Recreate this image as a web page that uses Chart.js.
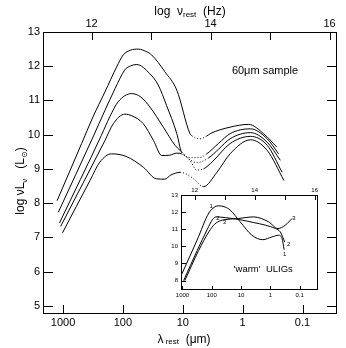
<!DOCTYPE html>
<html><head><meta charset="utf-8">
<script src="https://cdn.jsdelivr.net/npm/chart.js@4/dist/chart.umd.min.js"></script>
<style>
html,body{margin:0;padding:0;background:#fff;}
#wrap{position:relative;width:346px;height:348px;overflow:hidden;}
#main{position:absolute;left:0;top:0;}
#inset{position:absolute;left:160px;top:182px;}
</style></head><body>
<div id="wrap">
<canvas id="main" width="346" height="348"></canvas>
<canvas id="inset" width="165" height="120"></canvas>
</div>
<script>
// ---------- data: main panel (x = log10 lambda_rest [um], y = log nuL_nu [Lsun]) ----------
const mainTickValues = [3, 2, 1, 0, -1];
const mainTickLabels = ["1000", "100", "10", "1", "0.1"];
const nuTickValues = [12, 13, 14, 15, 16];
const nuTickLabels = ["12", "", "14", "", "16"];
const lumTickValues = [5, 6, 7, 8, 9, 10, 11, 12, 13];
const insetLumTickValues = [8, 9, 10, 11, 12, 13];

const sed1X = [3.10, 2.69, 2.50, 2.30, 2.105, 1.995, 1.87, 1.744, 1.60, 1.52, 1.30, 1.10, 0.88, 0.85, 0.71, 0.60, 0.54, 0.21, -0.10, -0.35, -0.57];
const sed1Y = [8.07, 9.74, 10.52, 11.25, 11.98, 12.33, 12.47, 12.50, 12.42, 12.33, 11.84, 11.30, 10.03, 9.97, 9.88, 9.96, 10.03, 10.22, 10.30, 10.03, 9.64];
const sed2X = [3.08, 2.50, 2.30, 2.13, 1.97, 1.87, 1.77, 1.55, 1.41, 1.27, 1.10, 1.02, 0.85, 0.72, 0.60, 0.40, 0.21, -0.13, -0.41, -0.60];
const sed2Y = [7.73, 9.93, 10.71, 11.35, 11.89, 12.01, 12.05, 11.78, 11.45, 10.85, 10.03, 9.49, 9.33, 9.33, 9.44, 9.75, 10.03, 10.17, 9.88, 9.44];
const sed3X = [3.06, 2.36, 2.22, 2.08, 1.855, 1.70, 1.55, 1.325, 1.13, 1.045, 0.90, 0.77, 0.57, 0.40, 0.21, -0.13, -0.41, -0.63];
const sed3Y = [7.42, 9.98, 10.52, 10.96, 11.20, 11.10, 10.81, 10.22, 9.69, 9.54, 9.30, 9.18, 9.32, 9.58, 9.88, 10.06, 9.78, 9.25];
const sed4X = [3.04, 2.30, 2.16, 1.97, 1.85, 1.66, 1.49, 1.35, 1.22, 1.10, 1.02, 0.88, 0.77, 0.655, 0.50, 0.21, -0.13, -0.41, -0.66];
const sed4Y = [7.32, 9.83, 10.32, 10.60, 10.55, 10.32, 9.83, 9.39, 9.40, 9.46, 9.44, 9.25, 8.97, 9.00, 9.22, 9.74, 9.95, 9.69, 8.90];
const sed5X = [3.01, 2.55, 2.385, 2.19, 1.94, 1.66, 1.44, 1.30, 1.20, 1.045, 0.93, 0.82, 0.655, 0.43, 0.21, -0.13, -0.41, -0.69];
const sed5Y = [7.13, 8.66, 9.20, 9.44, 9.36, 9.05, 8.71, 8.70, 8.82, 8.90, 8.84, 8.71, 8.48, 8.90, 9.44, 9.85, 9.54, 8.66];
// interpolated (dotted) parts of each SED: [short, long] log lambda range
const sed1Dotted = [0.60, 0.85];
const sed2Dotted = [0.60, 1.02];
const sed3Dotted = [0.57, 1.045];
const sed4Dotted = [0.655, 1.02];
const sed5Dotted = [0.655, 1.045];

// ---------- data: inset ('warm' ULIGs) ----------
const warm1X = [3.02, 2.50, 2.10, 1.90, 1.765, 1.55, 1.37, 1.03, 0.63, 0.26, -0.055, -0.28, -0.40, -0.47];
const warm1Y = [8.39, 10.37, 11.95, 12.30, 12.37, 12.30, 12.12, 11.43, 10.65, 10.39, 10.55, 10.65, 10.45, 9.80];
const warm2X = [2.96, 2.50, 2.15, 1.98, 1.85, 1.54, 1.08, 0.57, 0.17, -0.17, -0.34, -0.49];
const warm2Y = [8.00, 9.75, 11.00, 11.55, 11.72, 11.68, 11.57, 11.39, 11.24, 11.04, 10.84, 10.25];
const warm3X = [2.92, 2.45, 2.10, 1.90, 1.70, 1.59, 1.08, 0.57, 0.06, -0.26, -0.51, -0.74];
const warm3Y = [8.00, 9.75, 10.85, 11.30, 11.50, 11.55, 11.63, 11.72, 11.43, 11.04, 11.24, 11.63];
const warmLabelText = ["1", "2", "3", "1", "2", "3"];
const warmLabelX = [2.02, 1.79, 1.57, -0.49, -0.62, -0.80];
const warmLabelY = [12.31, 11.64, 11.42, 9.52, 10.12, 11.62];

// ---------- helpers ----------
const FONT = "'Liberation Sans', Arial, 'DejaVu Sans', sans-serif";
Chart.defaults.font.family = FONT;
Chart.defaults.color = '#000';

function labelFrom(values, labels) {
  return v => { const i = values.findIndex(t => Math.abs(t - v) < 1e-9); return i >= 0 ? labels[i] : ''; };
}
function inside(v, r) { return v >= r[0] - 1e-9 && v <= r[1] + 1e-9; }
function mkDS(xs, ys, dot) {
  return {
    data: xs.map((x, i) => ({ x: x, y: ys[i] })),
    borderColor: '#000', backgroundColor: '#000', borderWidth: 1,
    pointRadius: 0, fill: false, cubicInterpolationMode: 'monotone',
    segment: dot ? { borderDash: c => (inside(c.p0.parsed.x, dot) && inside(c.p1.parsed.x, dot)) ? [1, 2] : undefined } : undefined
  };
}
function drawRich(c, parts, x, y) {
  let w = 0;
  parts.forEach(p => { c.font = p.font; w += c.measureText(p.t).width; });
  let cx = x - w / 2;
  c.textAlign = 'left'; c.textBaseline = 'alphabetic';
  parts.forEach(p => { c.font = p.font; c.fillText(p.t, cx, y + (p.dy || 0)); cx += c.measureText(p.t).width; });
}

const decor = {
  id: 'decor',
  beforeDraw(chart, args, o) {
    const a = chart.chartArea, c = chart.ctx;
    if (o.fill) { c.save(); c.fillStyle = o.fill; c.fillRect(a.left, a.top, a.right - a.left, a.bottom - a.top); c.restore(); }
  },
  afterDraw(chart, args, o) {
    const a = chart.chartArea, c = chart.ctx;
    c.save();
    c.strokeStyle = '#000'; c.lineWidth = 1; c.setLineDash([]);
    c.strokeRect(a.left + 0.5, a.top + 0.5, a.right - a.left - 1, a.bottom - a.top - 1);
    (o.ticks || []).forEach(t => {
      const s = chart.scales[t.scale];
      s.ticks.forEach(tk => {
        const p = Math.round(s.getPixelForValue(tk.value)) + 0.5;
        c.beginPath();
        if (t.side === 'bottom') { c.moveTo(p, a.bottom); c.lineTo(p, a.bottom - t.len); }
        if (t.side === 'top') { c.moveTo(p, a.top); c.lineTo(p, a.top + t.len); }
        if (t.side === 'left') { c.moveTo(a.left, p); c.lineTo(a.left + t.len, p); }
        if (t.side === 'right') { c.moveTo(a.right, p); c.lineTo(a.right - t.len, p); }
        c.stroke();
      });
    });
    c.fillStyle = '#000';
    if (o.draw) o.draw(chart, c, a);
    c.restore();
  }
};

function fixed(size) { return s => { if (s.isHorizontal()) s.height = size; else s.width = size; }; }

// ---------- main chart ----------
new Chart(document.getElementById('main'), {
  type: 'line',
  data: { datasets: [
    mkDS(sed1X, sed1Y, sed1Dotted), mkDS(sed2X, sed2Y, sed2Dotted), mkDS(sed3X, sed3Y, sed3Dotted),
    mkDS(sed4X, sed4Y, sed4Dotted), mkDS(sed5X, sed5Y, sed5Dotted)
  ] },
  options: {
    responsive: false, devicePixelRatio: 1, animation: false,
    layout: { padding: { left: 0, right: 9, top: 0, bottom: 0 } },
    plugins: {
      legend: { display: false }, tooltip: { enabled: false },
      decor: {
        ticks: [
          { scale: 'x', side: 'bottom', len: 9 }, { scale: 'x2', side: 'top', len: 8 },
          { scale: 'y', side: 'left', len: 10 }, { scale: 'y', side: 'right', len: 10 }
        ],
        draw(chart, c, a) {
          const cx = (a.left + a.right) / 2;
          drawRich(c, [
            { t: 'log  ', font: '12px ' + FONT }, { t: 'ν', font: '12px ' + FONT },
            { t: 'rest', font: '8px ' + FONT, dy: 1.5 }, { t: '  (Hz)', font: '12px ' + FONT }
          ], cx, a.top - 17);
          drawRich(c, [
            { t: 'λ', font: '12px ' + FONT }, { t: ' rest', font: '8px ' + FONT, dy: 1 },
            { t: '  (μm)', font: '12px ' + FONT }
          ], cx - 6, a.bottom + 29);
          c.save();
          c.translate(24, (a.top + a.bottom) / 2 + 8);
          c.rotate(-Math.PI / 2);
          drawRich(c, [
            { t: 'log νL', font: '12px ' + FONT }, { t: 'ν', font: '8px ' + FONT, dy: 3 },
            { t: '   (L', font: '12px ' + FONT }, { t: '⊙', font: '8px ' + FONT, dy: 3 },
            { t: ')', font: '12px ' + FONT }
          ], 0, 0);
          c.restore();
          const sx = chart.scales.x, sy = chart.scales.y;
          c.font = '11px ' + FONT; c.textAlign = 'left'; c.textBaseline = 'alphabetic';
          c.fillText('60μm sample', sx.getPixelForValue(0.18), sy.getPixelForValue(11.78));
        }
      }
    },
    scales: {
      x: {
        type: 'linear', position: 'bottom', reverse: true, min: -1.576, max: 3.335,
        afterBuildTicks: s => { s.ticks = mainTickValues.map(v => ({ value: v })); },
        afterFit: fixed(34),
        ticks: { callback: labelFrom(mainTickValues, mainTickLabels), font: { size: 11 }, padding: 2, maxRotation: 0, autoSkip: false },
        grid: { display: false, drawTicks: false }, border: { display: false }
      },
      x2: {
        type: 'linear', position: 'top', min: 11.185, max: 16.125,
        afterBuildTicks: s => { s.ticks = nuTickValues.map(v => ({ value: v })); },
        afterFit: fixed(32),
        ticks: { callback: labelFrom(nuTickValues, nuTickLabels), font: { size: 11 }, padding: 1, maxRotation: 0, autoSkip: false },
        grid: { display: false, drawTicks: false }, border: { display: false }
      },
      y: {
        type: 'linear', position: 'left', min: 4.76, max: 13,
        afterBuildTicks: s => { s.ticks = lumTickValues.map(v => ({ value: v })); },
        afterFit: fixed(43),
        ticks: { callback: v => String(v), font: { size: 11 }, padding: 3, autoSkip: false },
        grid: { display: false, drawTicks: false }, border: { display: false }
      }
    }
  },
  plugins: [decor]
});

// ---------- inset chart ----------
new Chart(document.getElementById('inset'), {
  type: 'line',
  data: { datasets: [mkDS(warm1X, warm1Y), mkDS(warm2X, warm2Y), mkDS(warm3X, warm3Y)] },
  options: {
    responsive: false, devicePixelRatio: 1, animation: false,
    layout: { padding: { left: 0, right: 7, top: 0, bottom: 0 } },
    plugins: {
      legend: { display: false }, tooltip: { enabled: false },
      decor: {
        fill: '#fff',
        ticks: [
          { scale: 'x', side: 'bottom', len: 4 }, { scale: 'x2', side: 'top', len: 5 },
          { scale: 'y', side: 'left', len: 5 }
        ],
        draw(chart, c, a) {
          const sx = chart.scales.x, sy = chart.scales.y;
          c.font = '9.5px ' + FONT; c.textAlign = 'left'; c.textBaseline = 'alphabetic';
          c.fillText("'warm'  ULIGs", sx.getPixelForValue(1.25), sy.getPixelForValue(8.53));
          c.font = '6px ' + FONT; c.textAlign = 'center'; c.textBaseline = 'middle';
          warmLabelText.forEach((t, i) => c.fillText(t, sx.getPixelForValue(warmLabelX[i]), sy.getPixelForValue(warmLabelY[i])));
        }
      }
    },
    scales: {
      x: {
        type: 'linear', position: 'bottom', reverse: true, min: -1.625, max: 3.05,
        afterBuildTicks: s => { s.ticks = mainTickValues.map(v => ({ value: v })); },
        afterFit: fixed(12),
        ticks: { callback: labelFrom(mainTickValues, mainTickLabels), font: { size: 6 }, padding: 2, maxRotation: 0, autoSkip: false },
        grid: { display: false, drawTicks: false }, border: { display: false }
      },
      x2: {
        type: 'linear', position: 'top', min: 11.543, max: 16.11,
        afterBuildTicks: s => { s.ticks = nuTickValues.map(v => ({ value: v })); },
        afterFit: fixed(13),
        ticks: { callback: labelFrom(nuTickValues, nuTickLabels), font: { size: 6 }, padding: 1, maxRotation: 0, autoSkip: false },
        grid: { display: false, drawTicks: false }, border: { display: false }
      },
      y: {
        type: 'linear', position: 'left', min: 7.45, max: 13,
        afterBuildTicks: s => { s.ticks = insetLumTickValues.map(v => ({ value: v })); },
        afterFit: fixed(21),
        ticks: { callback: v => String(v), font: { size: 6 }, padding: 3, autoSkip: false },
        grid: { display: false, drawTicks: false }, border: { display: false }
      }
    }
  },
  plugins: [decor]
});
</script>
</body></html>
